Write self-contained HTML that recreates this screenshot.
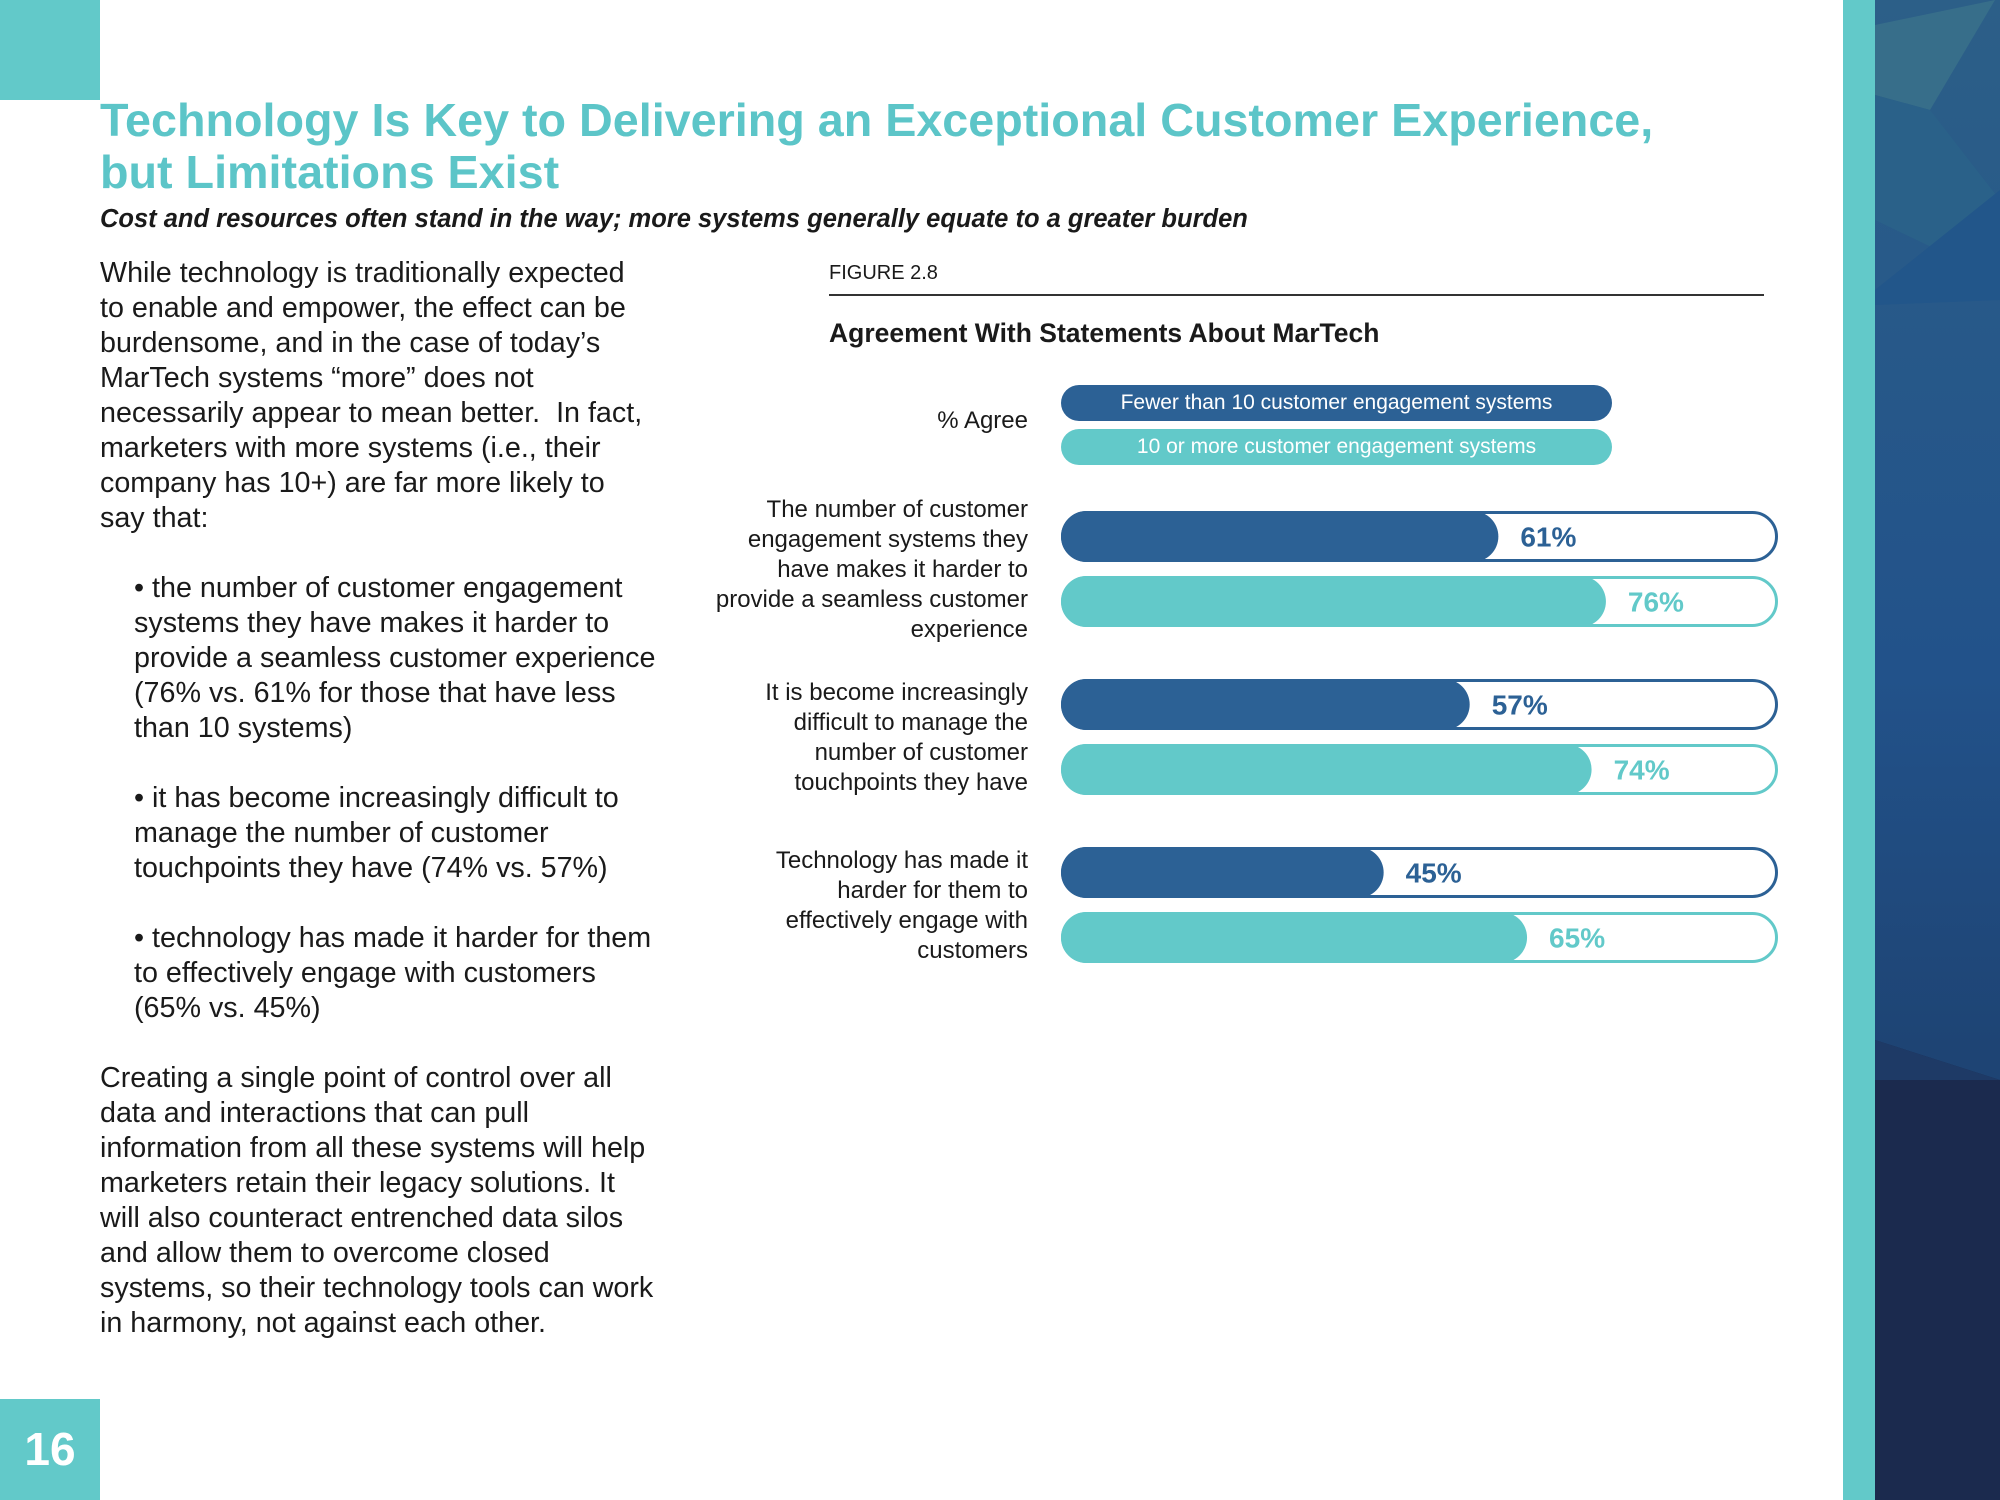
<!DOCTYPE html>
<html><head><meta charset="utf-8"><style>
body{margin:0;width:2000px;height:1500px;position:relative;overflow:hidden;background:#fff;font-family:"Liberation Sans",sans-serif;color:#1a1a1a}
.abs{position:absolute}
.body{font-size:28.7px;line-height:35px;color:#1a1a1a;white-space:nowrap}
</style></head><body>
<div class="abs" style="left:0;top:0;width:100px;height:100px;background:#62c9c9"></div>
<div class="abs" style="left:0;top:1399px;width:100px;height:101px;background:#62c9c9;color:#fff;font-weight:bold;font-size:46px;line-height:101px;text-align:center">16</div>
<div class="abs" style="left:1843px;top:0;width:32px;height:1500px;background:#62c9c9"></div>
<svg class="abs" style="left:1875px;top:0" width="125" height="1500">
<defs><linearGradient id="g" x1="0" y1="0" x2="0" y2="1"><stop offset="0" stop-color="#2c5f88"/><stop offset="0.45" stop-color="#22528a"/><stop offset="0.7" stop-color="#1e4474"/></linearGradient></defs>
<rect width="125" height="1500" fill="url(#g)"/>
<polygon points="0,25 120,0 55,110 0,95" fill="#376e8a"/>
<polygon points="0,95 55,110 125,200 125,280 0,220" fill="#2a6189"/>
<polygon points="0,290 125,190 125,300 0,305" fill="#22568a"/>
<polygon points="0,1040 125,1080 125,1500 0,1500" fill="#1b2a4e"/>
<polygon points="0,1040 125,1080 0,1080" fill="#1e3a66"/>
</svg>
<div class="abs" style="left:100px;top:94px;font-size:46.7px;line-height:52px;font-weight:bold;color:#5cc5c8">Technology Is Key to Delivering an Exceptional Customer Experience,<br>but Limitations Exist</div>
<div class="abs" style="left:100px;top:205px;font-size:25.5px;font-style:italic;font-weight:bold;color:#1a1a1a">Cost and resources often stand in the way; more systems generally equate to a greater burden</div>
<div class="abs body" style="left:100px;top:256px">While technology is traditionally expected<br>to enable and empower, the effect can be<br>burdensome, and in the case of today’s<br>MarTech systems “more” does not<br>necessarily appear to mean better.&nbsp; In fact,<br>marketers with more systems (i.e., their<br>company has 10+) are far more likely to<br>say that:</div>
<div class="abs body" style="left:134px;top:571px">• the number of customer engagement<br>systems they have makes it harder to<br>provide a seamless customer experience<br>(76% vs. 61% for those that have less<br>than 10 systems)</div>
<div class="abs body" style="left:134px;top:781px">• it has become increasingly difficult to<br>manage the number of customer<br>touchpoints they have (74% vs. 57%)</div>
<div class="abs body" style="left:134px;top:921px">• technology has made it harder for them<br>to effectively engage with customers<br>(65% vs. 45%)</div>
<div class="abs body" style="left:100px;top:1061px">Creating a single point of control over all<br>data and interactions that can pull<br>information from all these systems will help<br>marketers retain their legacy solutions. It<br>will also counteract entrenched data silos<br>and allow them to overcome closed<br>systems, so their technology tools can work<br>in harmony, not against each other.</div>
<div class="abs" style="left:829px;top:262px;font-size:20px">FIGURE 2.8</div>
<div class="abs" style="left:829px;top:294px;width:935px;height:2px;background:#333"></div>
<div class="abs" style="left:829px;top:318px;font-size:26.5px;font-weight:bold">Agreement With Statements About MarTech</div>
<div class="abs" style="left:828px;top:407px;width:200px;text-align:right;font-size:24px">% Agree</div>
<div class="abs" style="left:1061px;top:385px;width:551px;height:36px;border-radius:18px;background:#2c6195;color:#fff;font-size:21px;line-height:36px;text-align:center">Fewer than 10 customer engagement systems</div>
<div class="abs" style="left:1061px;top:429px;width:551px;height:36px;border-radius:18px;background:#62c9c9;color:#fff;font-size:21px;line-height:36px;text-align:center">10 or more customer engagement systems</div>
<svg id="chart" class="abs" style="left:0;top:0" width="2000" height="1500"></svg>
<script>
const categories=[["The number of customer","engagement systems they","have makes it harder to","provide a seamless customer","experience"],["It is become increasingly","difficult to manage the","number of customer","touchpoints they have"],["Technology has made it","harder for them to","effectively engage with","customers"]];
const fewerValues=[61,57,45];
const moreValues=[76,74,65];
const NS="http://www.w3.org/2000/svg";
const svg=document.getElementById('chart');
const x0=1061,W=717,barH=51;
const groupTop=[511,679,847];
function xScale(v){return x0+W*v/100;}
function mk(t,a){const e=document.createElementNS(NS,t);for(const k in a)e.setAttribute(k,a[k]);svg.appendChild(e);return e;}
categories.forEach((lines,i)=>{
  const y=groupTop[i];
  [[fewerValues[i],'#2c6195',0,'fewer'],[moreValues[i],'#62c9c9',65,'more']].forEach(([v,c,dy,nm])=>{
    const yy=y+dy;
    const o=mk('rect',{x:x0+1.5,y:yy+1.5,width:W-3,height:barH-3,rx:(barH-3)/2,fill:'#fff',stroke:c,'stroke-width':3});
    
    
    const b=mk('rect',{x:x0,y:yy,width:xScale(v)-x0,height:barH,rx:barH/2,fill:c});
    
    
    const t=mk('text',{x:xScale(v)+22,y:yy+barH/2+10,fill:c,'font-size':28,'font-weight':'bold','font-family':'Liberation Sans, sans-serif'});
    t.textContent=v+'%';
    
    
  });
  const mid=y+(65+barH)/2;
  const lh=30;
  const start=mid-(lines.length-1)*lh/2+8;
  lines.forEach((ln,j)=>{
    const t=mk('text',{x:1028,y:start+j*lh,'text-anchor':'end','font-size':24,fill:'#1a1a1a','font-family':'Liberation Sans, sans-serif'});
    t.textContent=ln;
    
    
  });
});
</script>
</body></html>
